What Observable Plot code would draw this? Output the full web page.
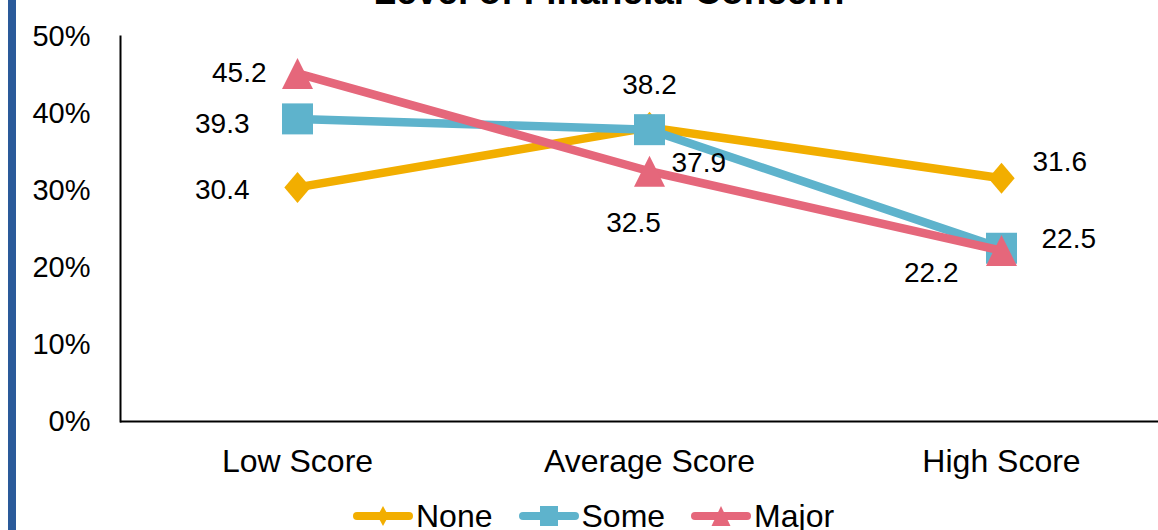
<!DOCTYPE html>
<html>
<head>
<meta charset="utf-8">
<script src="https://cdn.jsdelivr.net/npm/d3@7"></script>
<script src="https://cdn.jsdelivr.net/npm/@observablehq/plot@0.6"></script>
<style>
  html, body { margin: 0; padding: 0; background: #fff; overflow: hidden; }
  #wrap { position: relative; width: 1158px; height: 530px; overflow: hidden; font-family: "Liberation Sans", Arial, sans-serif; }
  #bar { position: absolute; left: 8px; top: 0; width: 8px; height: 530px; background: #2A5A9A; }
  #title { position: absolute; left: 0; width: 1218px; top: -27px; text-align: center; font-size: 37px; line-height: 37px; font-weight: bold; white-space: nowrap; color: #000; }
  #chart { position: absolute; left: 0; top: 0; }
  #legend { position: absolute; left: 353px; top: 502px; height: 28px; display: flex; align-items: center; }
  .item { display: flex; align-items: center; margin-right: 26px; }
  .item svg { display: block; }
  .item span { font-size: 32px; line-height: 28px; margin-left: 3px; color: #000; }
</style>
</head>
<body>
<div id="wrap">
  <div id="bar"></div>
  <div id="chart"></div>
  <div id="title"></div>
  <div id="legend"></div>
</div>
<script>
// ---- data ----
const title = "Level of Financial Concern";
const categories = ["Low Score", "Average Score", "High Score"];
const seriesNames = ["None", "Some", "Major"];
const noneValues = [30.4, 38.2, 31.6];
const someValues = [39.3, 37.9, 22.5];
const majorValues = [45.2, 32.5, 22.2];
const yTicks = [0, 10, 20, 30, 40, 50];

// ---- styles ----
const colors = { None: "#F2AE00", Some: "#5EB3CC", Major: "#E5677B" };
const diamond = { draw(ctx, size) { const r = Math.sqrt(size / Math.PI); const w = r * 0.85; ctx.moveTo(0, -r); ctx.lineTo(w, 0); ctx.lineTo(0, r); ctx.lineTo(-w, 0); ctx.closePath(); } };
const square = { draw(ctx, size) { const r = Math.sqrt(size / Math.PI); ctx.rect(-r, -r, 2 * r, 2 * r); } };
const triangle = { draw(ctx, size) { const r = Math.sqrt(size / Math.PI); ctx.moveTo(0, -r); ctx.lineTo(r, r); ctx.lineTo(-r, r); ctx.closePath(); } };
const symbols = { None: diamond, Some: square, Major: triangle };
const labelPlacement = {
  None:  [{ a: "end", dx: -48, dy: 3 }, { a: "middle", dx: 0, dy: -42 }, { a: "start", dx: 31, dy: -16 }],
  Some:  [{ a: "end", dx: -48, dy: 5 }, { a: "start", dx: 22, dy: 33 }, { a: "start", dx: 40, dy: -9 }],
  Major: [{ a: "end", dx: -31, dy: 0 }, { a: "middle", dx: -16, dy: 52 }, { a: "end", dx: -43, dy: 22 }]
};

const valuesBySeries = { None: noneValues, Some: someValues, Major: majorValues };
const rows = seriesNames.flatMap(s => categories.map((c, i) => ({ series: s, category: c, value: valuesBySeries[s][i], idx: i })));

const seriesMarks = [];
for (const s of seriesNames) {
  const d = rows.filter(r => r.series === s);
  seriesMarks.push(Plot.line(d, { x: "category", y: "value", stroke: colors[s], strokeWidth: 8.5, strokeLinejoin: "round" }));
  seriesMarks.push(Plot.dot(d, { x: "category", y: "value", r: 15.5, symbol: symbols[s], fill: colors[s], stroke: "none" }));
}
const labelMarks = [];
for (const s of seriesNames) {
  rows.filter(r => r.series === s).forEach(r => {
    const p = labelPlacement[s][r.idx];
    labelMarks.push(Plot.text([r], { x: "category", y: "value", text: d => d.value.toFixed(1), textAnchor: p.a, dx: p.dx, dy: p.dy, fontSize: 28, fill: "#000" }));
  });
}

const chart = Plot.plot({
  width: 1158,
  height: 490,
  marginLeft: 120,
  marginRight: 0,
  marginTop: 36,
  marginBottom: 69,
  style: { fontFamily: "Liberation Sans, Arial, sans-serif", color: "#000", background: "transparent", overflow: "visible" },
  x: { type: "point", domain: categories, range: [296, 1001], padding: 0, label: null },
  y: { domain: [0, 50], label: null },
  marks: [
    Plot.axisY({ ticks: yTicks, tickSize: 0, tickPadding: 30, tickFormat: d => d + "%", fontSize: 29, label: null }),
    Plot.axisX({ tickSize: 0, tickPadding: 28, fontSize: 32, label: null }),
    Plot.frame({ anchor: "left", stroke: "#000", strokeWidth: 2 }),
    Plot.ruleY([0], { stroke: "#000", strokeWidth: 2 }),
    ...seriesMarks,
    ...labelMarks
  ]
});
document.getElementById("chart").appendChild(chart);
document.getElementById("title").textContent = title;

// ---- legend ----
const legendShapes = {
  None: '<path d="M30,4 L35.5,14 L30,24 L24.5,14 Z"/>',
  Some: '<rect x="21" y="4" width="18" height="20"/>',
  Major: '<path d="M30,4 L39.5,24 L20.5,24 Z"/>'
};
const legend = document.getElementById("legend");
for (const s of seriesNames) {
  const item = document.createElement("div");
  item.className = "item";
  item.innerHTML = `<svg width="60" height="28" viewBox="0 0 60 28"><line x1="4" y1="14" x2="56" y2="14" stroke="${colors[s]}" stroke-width="8" stroke-linecap="round"/><g fill="${colors[s]}">${legendShapes[s]}</g></svg><span>${s}</span>`;
  legend.appendChild(item);
}
</script>
</body>
</html>
